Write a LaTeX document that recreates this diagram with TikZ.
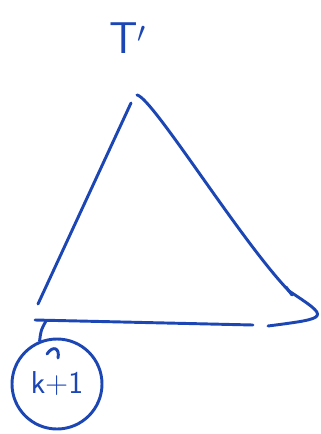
\documentclass[tikz,border=0pt]{standalone}
\usepackage{tikz}
\usetikzlibrary{positioning}
\definecolor{inkblue}{RGB}{28,70,180}

\begin{document}
\begin{tikzpicture}[x={(0.03cm,0)}, y={(0,-0.03cm)},
    ink/.style={draw=inkblue, line width=2.5pt, line cap=round, line join=round}]
    \useasboundingbox (0,0) rectangle (321,434);

    % Subtree label
    \node[text=inkblue, font=\sffamily\fontsize{38}{42}\selectfont] (tlabel) at (128,38) {T$'$};

    % Triangle corners
    \coordinate (apex) at (137,95);
    \coordinate (left) at (38,304);
    \coordinate (right) at (289,291);
    \coordinate (root) at (46,321);

    % Triangle sides
    \draw[ink] (131,103) -- (left);
    \draw[ink] (apex) .. controls (152,97) and (240,240) .. (right)
        .. controls (330,318) .. (268,326);
    \draw[ink] (286,287) -- (292,295);
    \draw[ink] (35,320) -- (253,325);

    % Node k+1
    \node[circle, ink, minimum size=2.7cm, text=inkblue,
          font=\sffamily\fontsize{27}{30}\selectfont] (kone) at (57,384) {k+1};
    \draw[ink] (root) .. controls (41,330) .. (kone.112);
    \draw[ink] (47,354) .. controls (53,345) and (60,348) .. (58,358);
\end{tikzpicture}
\end{document}
